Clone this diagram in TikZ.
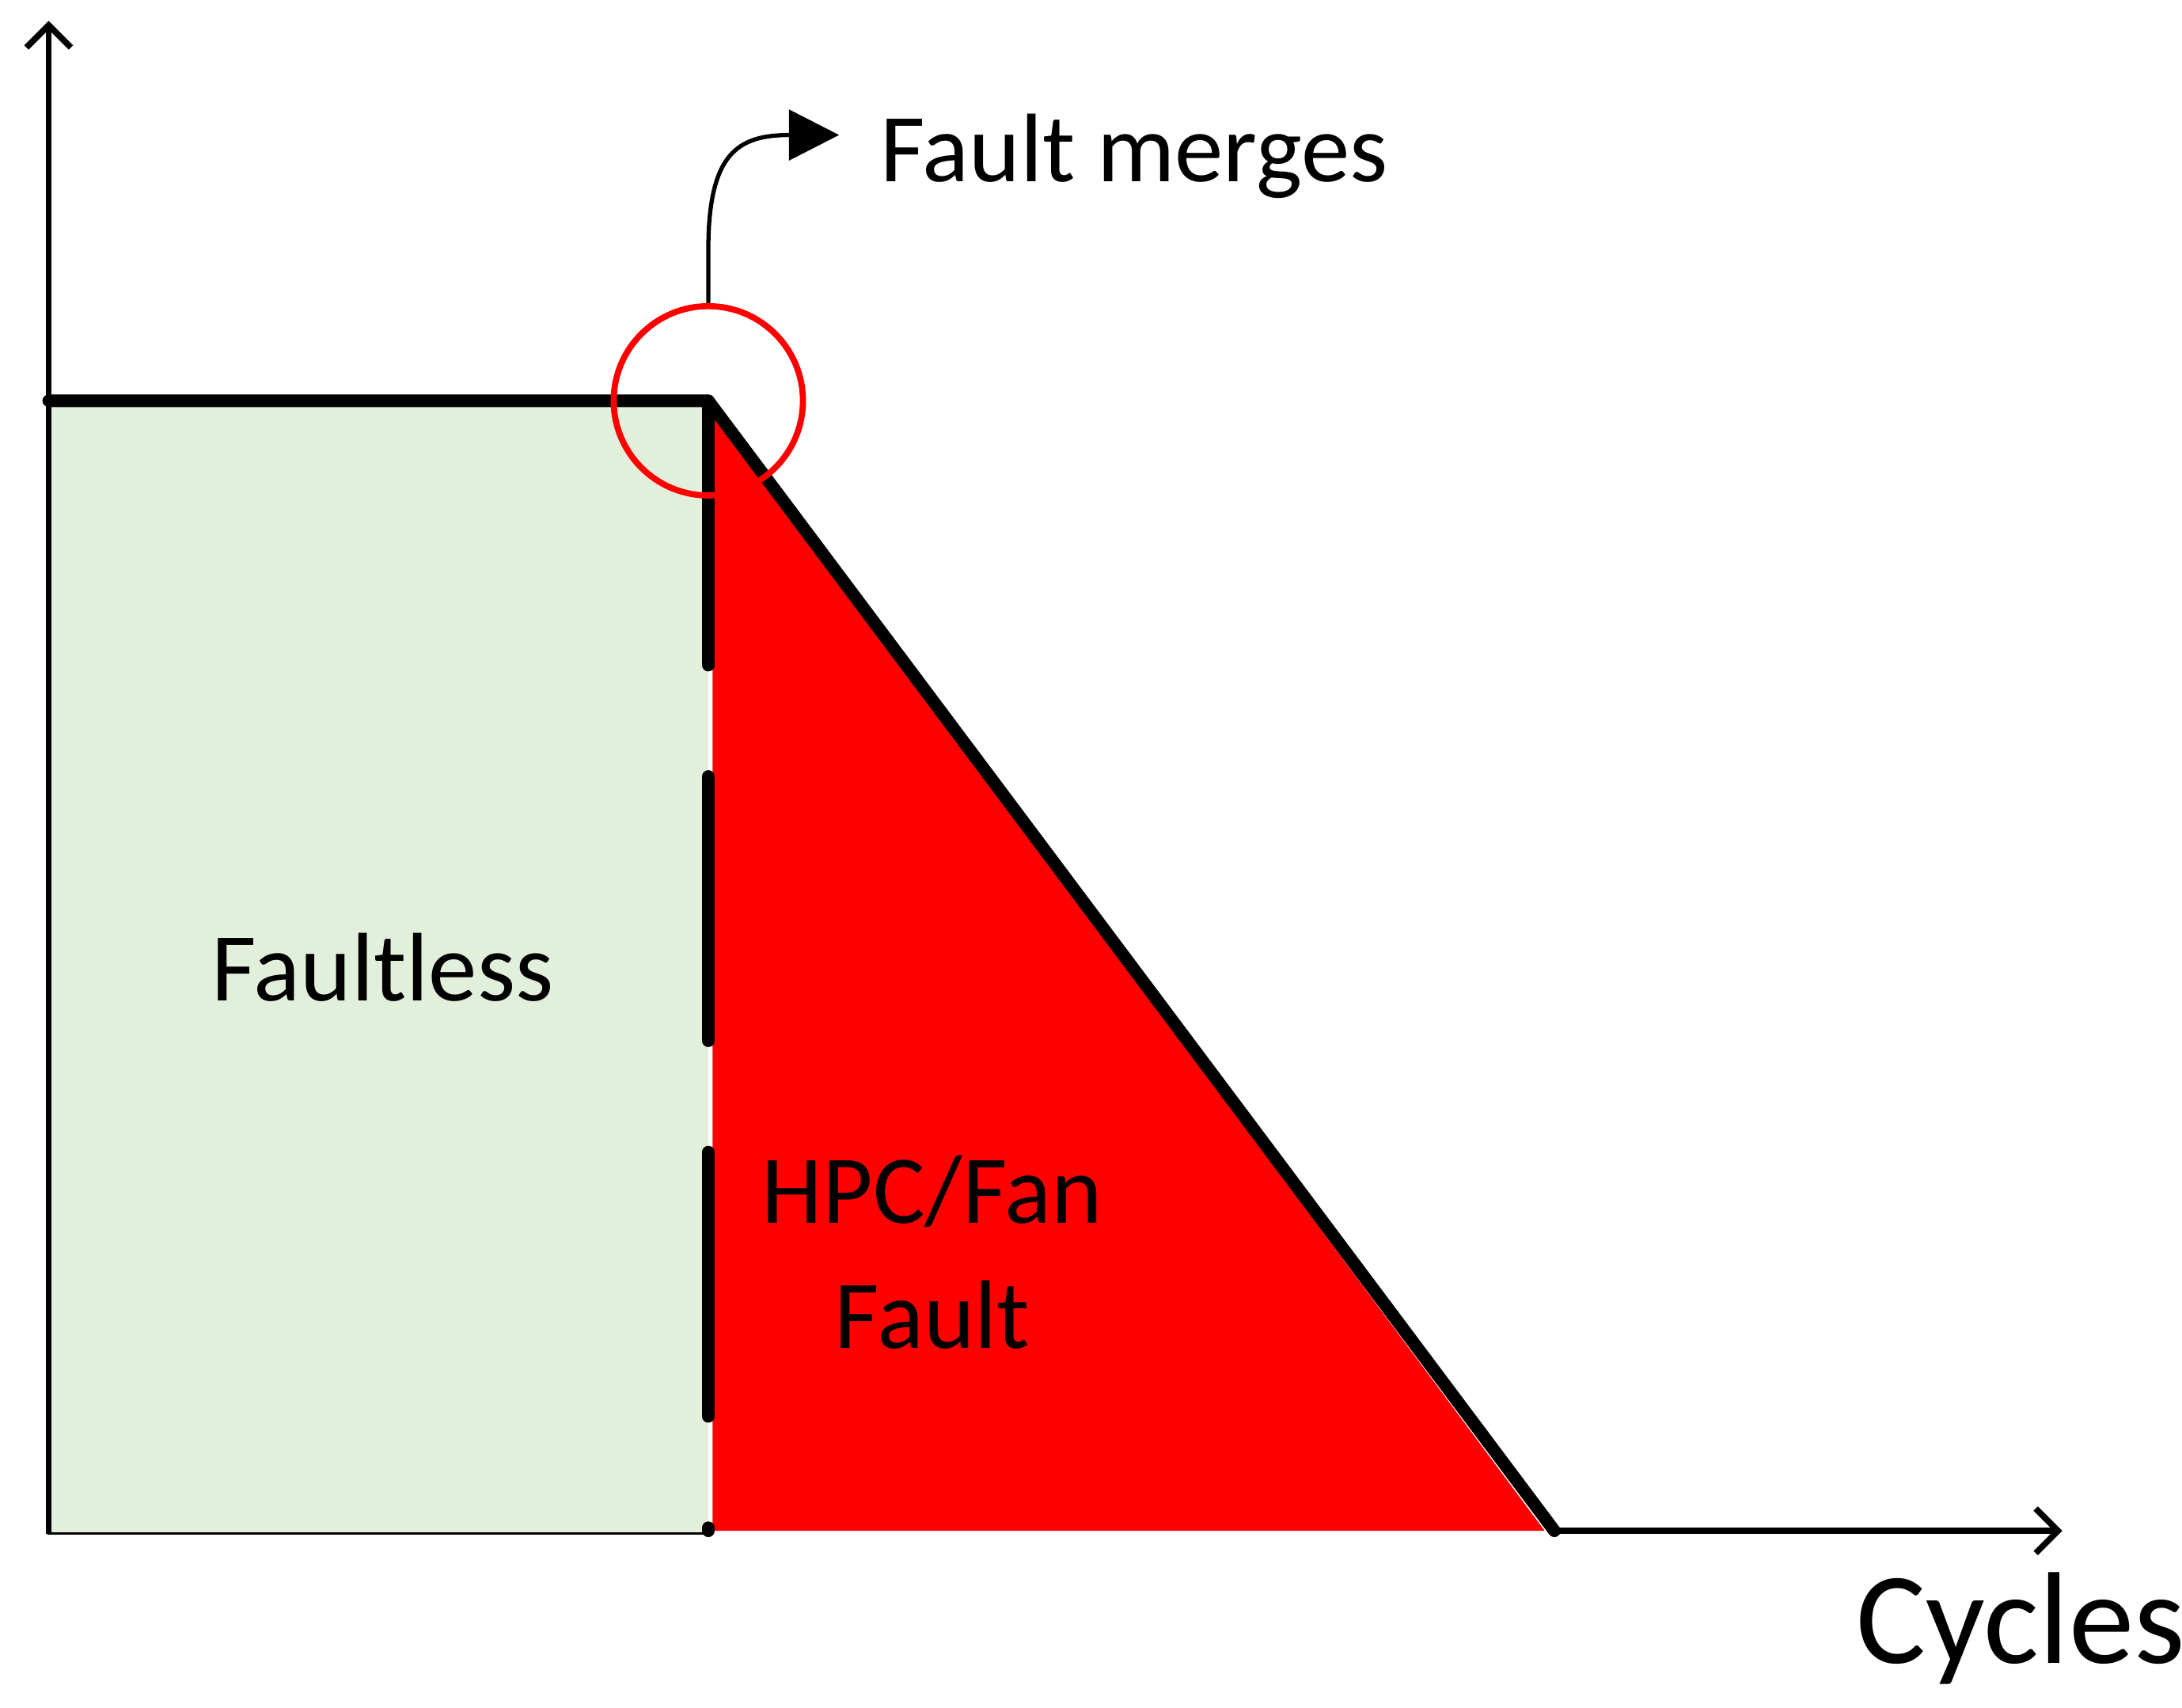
\documentclass[tikz,border=0pt]{standalone}
\usepackage{fontspec}
\setmainfont{Carlito}
\usetikzlibrary{arrows.meta,positioning}
\definecolor{paleGreen}{HTML}{E2EFDA}
\tikzset{
  axis/.style      = {line width=2.2pt, -{Straight Barb[length=8pt,width=16pt]}},
  profile/.style   = {line width=4.5pt, line cap=round, line join=round},
  label/.style     = {font=\fontsize{35}{40}\selectfont, align=center},
}
\begin{document}
\begin{tikzpicture}[x=0.01758cm, y=-0.01758cm]
    \useasboundingbox (0,0) rectangle (1568,1227);
    % regions
    \fill [paleGreen] (35,288) rectangle (509,1102);
    \fill [red] (512,295) -- (512,1100) -- (1110,1100) -- cycle;
    \draw [line width=1pt] (35,288) -- (35,1102) -- (509,1102);
    % points
    \coordinate (origin) at (35,1102);
    \coordinate (yend) at (35,15);
    \coordinate (xend) at (1482,1100);
    \coordinate (left) at (35,288);
    \coordinate (knee) at (509,288);
    \coordinate (foot) at (1117,1100);
    \coordinate (base) at (509,1100);
    % axes
    \draw [axis] (origin) -- (yend);
    \draw [axis] (foot) -- (xend);
    % profile
    \draw [profile] (left) -- (knee) -- (foot);
    \draw [line width=4.5pt, line cap=round, dash pattern=on 95pt off 40pt] (knee) -- (base);
    % marker
    \node (merge) [draw=red, circle, line width=2.2pt, minimum size=68*2*0.01758cm] at (knee) {};
    \node (note) [label] at (815,112) {Fault merges};
    \coordinate (tip) at (603,97);
    \draw [line width=1.5pt, -{Triangle[length=18pt,width=18pt]}]
        (merge.north) -- ++(0,-38) .. controls (509,110) and (530,97) .. (tip);
    % texts
    \node (healthy) [label] at (275,695) {Faultless};
    \node (fault) [label, font=\fontsize{35}{45}\selectfont] at (670,900) {HPC/Fan\\Fault};
    \node (cycles) [label, font=\fontsize{47}{50}\selectfont] at (1452,1170) {Cycles};
\end{tikzpicture}
\end{document}
